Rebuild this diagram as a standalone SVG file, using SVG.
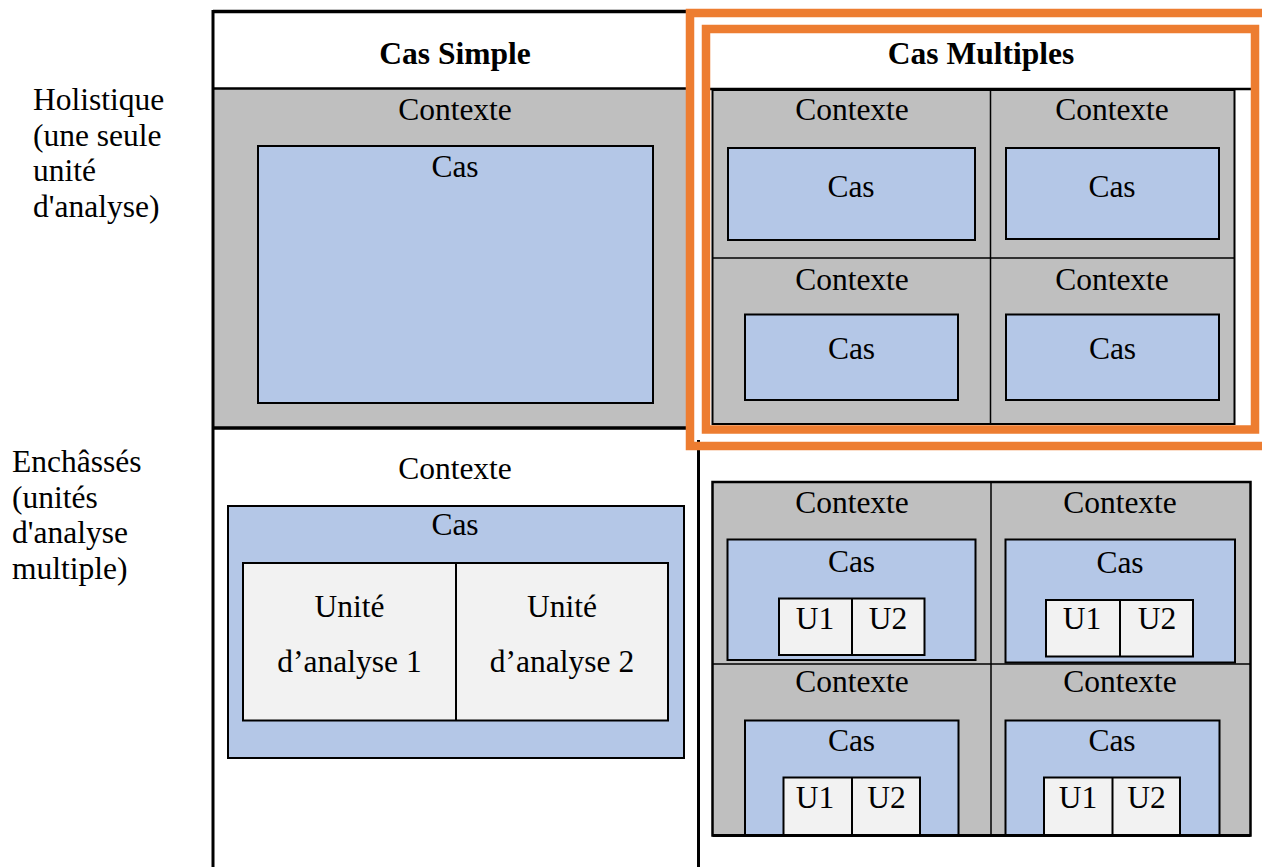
<svg xmlns="http://www.w3.org/2000/svg" width="1262" height="867" viewBox="0 0 1262 867">
<style>
text{font-family:"Liberation Serif",Tinos,"Times New Roman",Times,"Noto Serif","DejaVu Serif",serif;font-size:31.5px;fill:#000}
.c{text-anchor:middle}
.b{font-weight:bold}
.ctx{fill:#BFBFBF}
.cas{fill:#B4C7E7;stroke:#000;stroke-width:2}
.u{fill:#F2F2F2;stroke:#000;stroke-width:2}
.ln{stroke:#000;fill:none}
.or{fill:none;stroke:#ED7D31;stroke-width:8.5}
</style>
<rect width="1262" height="867" fill="#fff"/>

<g id="row-labels" font-family="Liberation Serif, serif">
<text x="33" y="110">Holistique</text>
<text x="33" y="145.5">(une seule</text>
<text x="33" y="181">unité</text>
<text x="33" y="216.5">d'analyse)</text>
<text x="12" y="472">Enchâssés</text>
<text x="12" y="507.5">(unités</text>
<text x="12" y="543">d'analyse</text>
<text x="12" y="578.5">multiple)</text>
</g>

<g id="simple-holistic">
<rect class="ctx" x="214" y="89" width="473" height="338"/>
<text class="c" x="455" y="120">Contexte</text>
<rect class="cas" x="258" y="146" width="395" height="257"/>
<text class="c" x="455" y="177">Cas</text>
</g>

<g id="simple-embedded">
<text class="c" x="455" y="479">Contexte</text>
<rect class="cas" x="228" y="506" width="456" height="252"/>
<text class="c" x="455" y="535">Cas</text>
<rect class="u" x="243" y="563" width="425" height="157.5"/>
<line class="ln" x1="456" y1="563" x2="456" y2="720.5" stroke-width="2"/>
<text class="c" x="349.5" y="616.5">Unité</text>
<text class="c" x="349.5" y="671.5">d’analyse 1</text>
<text class="c" x="562" y="616.5">Unité</text>
<text class="c" x="562" y="671.5">d’analyse 2</text>
</g>

<g id="frame">
<line class="ln" x1="213" y1="10" x2="213" y2="867" stroke-width="3"/>
<line class="ln" x1="213" y1="11.5" x2="690" y2="11.5" stroke-width="3.5"/>
<line class="ln" x1="213" y1="88.5" x2="688" y2="88.5" stroke-width="2.5"/>
<line class="ln" x1="213" y1="428" x2="690" y2="428" stroke-width="3.5"/>
<line class="ln" x1="698.5" y1="440" x2="698.5" y2="867" stroke-width="3"/>
<text class="c b" x="455" y="64">Cas Simple</text>
</g>

<g id="multiple-holistic">
<rect x="708" y="33" width="543" height="392" fill="#fff"/>
<text class="c b" x="981" y="64">Cas Multiples</text>
<line class="ln" x1="710" y1="89" x2="1251" y2="89" stroke-width="2.5"/>
<rect class="ctx" x="712.5" y="90" width="522" height="334" stroke="#000" stroke-width="2"/>
<line class="ln" x1="990.5" y1="90" x2="990.5" y2="424" stroke-width="1.5"/>
<line class="ln" x1="712.5" y1="258" x2="1234.5" y2="258" stroke-width="1.5"/>
<text class="c" x="852" y="120">Contexte</text>
<text class="c" x="1112" y="120">Contexte</text>
<rect class="cas" x="728" y="148" width="247" height="92"/>
<text class="c" x="851" y="197">Cas</text>
<rect class="cas" x="1006" y="148" width="213" height="91"/>
<text class="c" x="1112" y="197">Cas</text>
<text class="c" x="852" y="290">Contexte</text>
<text class="c" x="1112" y="290">Contexte</text>
<rect class="cas" x="745" y="314.5" width="213" height="85.5"/>
<text class="c" x="851.5" y="359">Cas</text>
<rect class="cas" x="1006" y="314.5" width="213" height="85.5"/>
<text class="c" x="1112.5" y="359">Cas</text>
</g>

<g id="highlight">
<rect class="or" x="690" y="13" width="600" height="433"/>
<rect class="or" x="706" y="29" width="549" height="400.5"/>
</g>

<g id="multiple-embedded">
<rect class="ctx" x="712.5" y="482" width="538" height="353.5" stroke="#000" stroke-width="2.5"/>
<line class="ln" x1="991" y1="482" x2="991" y2="835" stroke-width="1.5"/>
<line class="ln" x1="712.5" y1="664" x2="1250.5" y2="664" stroke-width="1.5"/>
<text class="c" x="852" y="513">Contexte</text>
<text class="c" x="1120" y="513">Contexte</text>
<text class="c" x="852" y="692">Contexte</text>
<text class="c" x="1120" y="692">Contexte</text>

<rect class="cas" x="727.5" y="539.5" width="248" height="120.5"/>
<text class="c" x="851.5" y="572">Cas</text>
<rect class="u" x="779" y="598.5" width="145.5" height="56.5"/>
<line class="ln" x1="852" y1="598.5" x2="852" y2="655" stroke-width="2"/>
<text class="c" x="815" y="629">U1</text>
<text class="c" x="888" y="629">U2</text>

<rect class="cas" x="1005.5" y="539.5" width="229.5" height="123"/>
<text class="c" x="1120" y="573">Cas</text>
<rect class="u" x="1046" y="600" width="147" height="56.5"/>
<line class="ln" x1="1120" y1="600" x2="1120" y2="656.5" stroke-width="2"/>
<text class="c" x="1082" y="629">U1</text>
<text class="c" x="1157" y="629">U2</text>

<rect class="cas" x="745" y="720.5" width="213.5" height="114.5"/>
<text class="c" x="851.5" y="751">Cas</text>
<rect class="u" x="783.5" y="777.5" width="136.5" height="57.5"/>
<line class="ln" x1="852" y1="777.5" x2="852" y2="835" stroke-width="2"/>
<text class="c" x="815" y="808">U1</text>
<text class="c" x="886.5" y="808">U2</text>

<rect class="cas" x="1005.5" y="720.5" width="214" height="114.5"/>
<text class="c" x="1112" y="751">Cas</text>
<rect class="u" x="1044" y="777.5" width="136" height="57.5"/>
<line class="ln" x1="1112.5" y1="777.5" x2="1112.5" y2="835" stroke-width="2"/>
<text class="c" x="1078" y="808">U1</text>
<text class="c" x="1146.5" y="808">U2</text>
<line class="ln" x1="712.5" y1="835.5" x2="1250.5" y2="835.5" stroke-width="3"/>
</g>
</svg>
